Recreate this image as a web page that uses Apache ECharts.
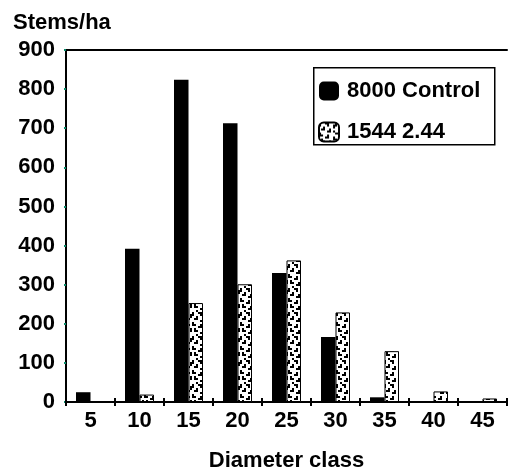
<!DOCTYPE html>
<html>
<head>
<meta charset="utf-8">
<script src="https://cdn.jsdelivr.net/npm/echarts@6/dist/echarts.min.js"></script>
<style>html,body{margin:0;padding:0;background:#fff}#c{width:508px;height:474px}</style>
</head>
<body>
<div id="c"></div>
<script>
const categories = ['5','10','15','20','25','30','35','40','45'];
const control = [25, 392, 824, 713, 330, 166, 12, 0, 0];
const treated = [0, 19, 253, 301, 362, 229, 130, 27, 9];
const seriesNames = ['8000 Control', '1544 2.44'];
const yTicks = [0, 900, 100];

// speckle texture
const tex = [
  "#..##...#...",
  "#...#..##..#",
  "..#....#...#",
  ".##..#....#.",
  "....##.#....",
  "#.......##..",
  "##..#.....#.",
  "...##..#....",
  ".#.....##..#",
  ".##..#.....#",
  "....##..#...",
  "..#.....##.."
];
const S = 2;
const pc = document.createElement('canvas');
pc.width = 12 * S; pc.height = 12 * S;
const g = pc.getContext('2d');
g.fillStyle = '#fff'; g.fillRect(0, 0, pc.width, pc.height);
g.fillStyle = '#000';
tex.forEach((row, y) => { for (let x = 0; x < row.length; x++) if (row[x] === '#') g.fillRect(x * S, y * S, S, S); });

const F = 'Liberation Sans, Arial, Helvetica, sans-serif';
const FS = 22;
const chart = echarts.init(document.getElementById('c'));
chart.setOption({
  animation: false,
  title: { text: 'Stems/ha', left: 8, top: 7, textStyle: { fontFamily: F, fontWeight: 'bold', fontSize: FS, color: '#000' } },
  grid: { left: 66, right: 1, top: 50, bottom: 72, containLabel: false, outerBoundsMode: 'none' },
  graphic: [{ type: 'rect', left: 313, top: 67, shape: { width: 181, height: 77 }, style: { fill: '#fff', stroke: '#000', lineWidth: 1.5 }, z: 5 }],
  legend: {
    orient: 'vertical', left: 318, top: 80, itemWidth: 20, itemHeight: 19, itemGap: 19, padding: 0, z: 10,
    textStyle: { fontFamily: F, fontWeight: 'bold', fontSize: FS, color: '#000', padding: [0, 0, 0, 3] },
    data: seriesNames
  },
  xAxis: [{
    type: 'category', data: categories, boundaryGap: true,
    axisLine: { lineStyle: { color: '#000', width: 2 } },
    axisTick: { show: true, length: 4, lineStyle: { color: '#000', width: 2 } },
    axisLabel: { fontFamily: F, fontWeight: 'bold', fontSize: FS, color: '#000', margin: 8 },
    name: 'Diameter class', nameLocation: 'middle', nameGap: 48,
    nameTextStyle: { fontFamily: F, fontWeight: 'bold', fontSize: FS, color: '#000' }
  }, {
    type: 'category', data: categories, position: 'bottom', boundaryGap: true,
    axisLine: { show: false }, axisLabel: { show: false },
    axisTick: { show: true, inside: true, length: 4, lineStyle: { color: '#000', width: 2 } }
  }, {
    type: 'value', position: 'top', min: 0, max: 1,
    axisLine: { show: true, lineStyle: { color: '#000', width: 2 } },
    axisTick: { show: false }, axisLabel: { show: false }, splitLine: { show: false }
  }],
  yAxis: {
    type: 'value', min: yTicks[0], max: yTicks[1], interval: yTicks[2],
    axisLine: { show: true, lineStyle: { color: '#000', width: 2 } },
    axisTick: { show: true, length: 2, lineStyle: { color: '#0a8a6a', width: 2 } },
    splitLine: { show: false },
    axisLabel: { fontFamily: F, fontWeight: 'bold', fontSize: FS, color: '#000', margin: 11 }
  },
  series: [{
    name: seriesNames[0], type: 'bar', data: control, barWidth: 14.5, barGap: '0%',
    itemStyle: { color: '#000' }
  }, {
    name: seriesNames[1], type: 'bar', data: treated, barWidth: 14.5, barGap: '0%',
    itemStyle: { color: { image: pc, repeat: 'repeat' }, borderColor: '#000', borderWidth: 1 }
  }]
});
</script>
</body>
</html>
